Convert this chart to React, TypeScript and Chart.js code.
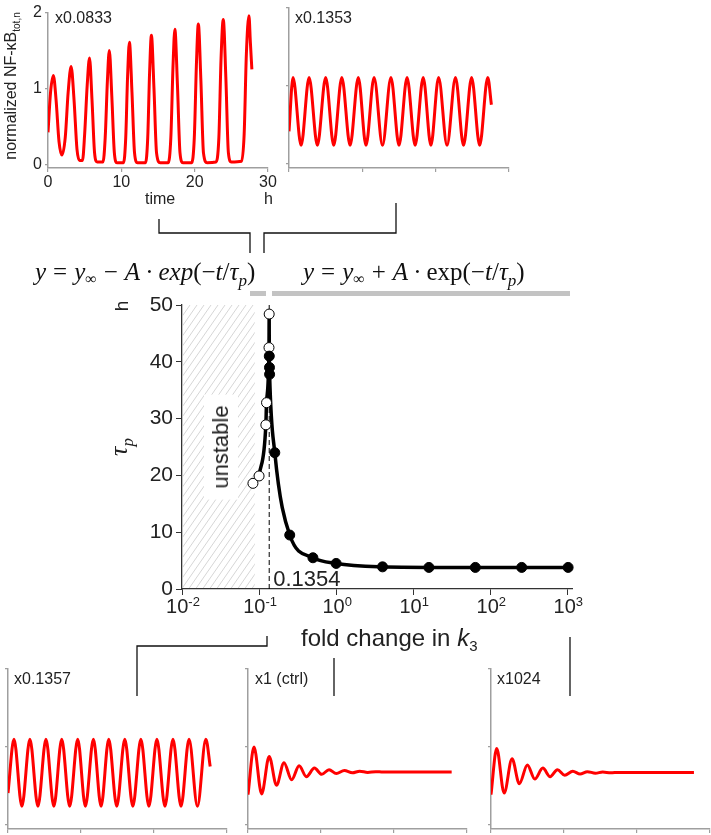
import React, { useEffect, useRef } from "react";
import { Chart, registerables } from "chart.js";

Chart.register(...registerables);
Chart.defaults.font.family = '"Liberation Sans", Arial, sans-serif';

// ---------------- data ----------------
// top-left panel: k3 x0.0833 (time in h, normalized NF-kB)
const tA = [0, 0.35, 0.73, 1.1, 1.5, 1.9, 2.35, 2.75, 3.15, 3.55, 3.95, 4.3, 4.7, 5.0, 5.35, 5.66, 6.0, 6.35, 6.7, 7.5, 7.8, 8.1, 8.36, 8.7, 9.05, 9.4, 10.3, 10.6, 10.85, 11.1, 11.45, 11.8, 12.2, 13.3, 13.6, 13.85, 14.1, 14.45, 14.8, 15.3, 16.4, 16.75, 17.05, 17.3, 17.65, 18.0, 18.4, 19.6, 19.95, 20.25, 20.5, 20.85, 21.2, 21.7, 22.9, 23.3, 23.6, 23.9, 24.25, 24.6, 25.0, 26.4, 26.75, 27.05, 27.4, 27.6, 27.8];
const vA = [0.42, 0.95, 1.17, 0.85, 0.3, 0.12, 0.35, 0.95, 1.29, 0.85, 0.2, 0.05, 0.05, 0.4, 1.05, 1.4, 0.85, 0.15, 0.03, 0.03, 0.35, 1.1, 1.5, 0.9, 0.15, 0.02, 0.02, 0.35, 1.15, 1.61, 0.95, 0.15, 0.02, 0.02, 0.35, 1.2, 1.7, 1.0, 0.15, 0.02, 0.02, 0.35, 1.3, 1.78, 1.05, 0.15, 0.02, 0.02, 0.35, 1.35, 1.85, 1.1, 0.15, 0.02, 0.03, 0.35, 1.4, 1.91, 1.15, 0.15, 0.03, 0.04, 0.4, 1.45, 1.96, 1.6, 1.25];

// top-right panel: k3 x0.1353
const tB = [0, 0.55, 1.65, 2.74, 3.87, 5.0, 6.1, 7.2, 8.33, 9.45, 10.5, 11.6, 12.75, 13.9, 15.0, 16.1, 17.2, 18.3, 19.35, 20.4, 21.55, 22.7, 23.8, 24.9, 26.0, 27.1, 27.6];
const vB = [0.42, 1.11, 0.24, 1.11, 0.24, 1.11, 0.24, 1.11, 0.24, 1.11, 0.24, 1.11, 0.24, 1.11, 0.24, 1.11, 0.24, 1.11, 0.24, 1.11, 0.24, 1.11, 0.24, 1.11, 0.24, 1.11, 0.76];

// bottom-left panel: k3 x0.1357
const tC = [0, 0.82, 1.9, 3.0, 4.1, 5.2, 6.28, 7.36, 8.45, 9.55, 10.6, 11.7, 12.75, 13.8, 14.9, 16.0, 17.1, 18.2, 19.3, 20.4, 21.5, 22.6, 23.7, 24.8, 25.95, 27.1, 27.7];
const vC = [0.41, 1.1, 0.24, 1.1, 0.24, 1.1, 0.24, 1.1, 0.24, 1.1, 0.24, 1.1, 0.24, 1.1, 0.24, 1.1, 0.24, 1.1, 0.24, 1.1, 0.24, 1.1, 0.24, 1.1, 0.24, 1.1, 0.75];

// bottom-middle panel: k3 x1 (ctrl)
const tD = [0, 0.82, 1.87, 2.9, 3.9, 4.93, 5.98, 7.0, 8.0, 9.1, 10.1, 11.1, 12.1, 13.2, 14.3, 15.3, 16.4, 17.5, 18.5, 27.9];
const vD = [0.39, 1.0, 0.4, 0.88, 0.51, 0.8, 0.58, 0.76, 0.62, 0.73, 0.65, 0.71, 0.66, 0.7, 0.67, 0.69, 0.675, 0.685, 0.68, 0.68];

// bottom-right panel: k3 x1024
const tE = [0, 0.78, 1.8, 2.88, 3.88, 4.98, 6.0, 7.1, 8.1, 9.1, 10.1, 11.2, 12.2, 13.2, 14.3, 15.3, 16.4, 17.5, 27.8];
const vE = [0.39, 0.98, 0.41, 0.85, 0.53, 0.77, 0.59, 0.73, 0.62, 0.71, 0.64, 0.69, 0.655, 0.685, 0.665, 0.68, 0.67, 0.675, 0.675];

// main panel: fold change in k3 vs tau_p (h)
const foldOpen = [0.0833, 0.1, 0.1225, 0.125, 0.1345, 0.1353];
const tauOpen = [18.6, 19.9, 28.9, 32.8, 42.5, 48.4];
const foldFilled = [0.1357, 0.1365, 0.137, 0.16, 0.25, 0.5, 1, 4, 16, 64, 256, 1024];
const tauFilled = [41.0, 39.0, 37.8, 24.0, 9.5, 5.5, 4.5, 3.9, 3.8, 3.8, 3.8, 3.8];
const threshold = 0.1354;
const unstableRange = [0.01, 0.088];

// tick labels
const smallXTicks = [0, 10, 20, 30];
const smallYTicks = [0, 1, 2];
const mainYTicks = [0, 10, 20, 30, 40, 50];
const mainXExponents = [-2, -1, 0, 1, 2, 3];

// ---------------- helpers ----------------
type Box = { left: number; top: number; width: number; height: number };
type Area = { left: number; top: number; right: number; bottom: number };

const SANS = '"Liberation Sans", Arial, sans-serif';
const SERIF = '"Liberation Serif", "Times New Roman", serif';

function pts(xs: number[], ys: number[]) {
  return xs.map((x, i) => ({ x, y: ys[i] }));
}

function layoutPad(box: Box, area: Area) {
  return {
    padding: {
      top: area.top - box.top,
      right: box.left + box.width - area.right,
      left: 0,
      bottom: 0,
    },
  };
}

function smallConfig(t: number[], v: number[], box: Box, area: Area, labels: boolean) {
  const axisColor = "#9f9f9f";
  return {
    type: "scatter",
    data: {
      datasets: [
        {
          data: pts(t, v),
          showLine: true,
          borderColor: "#ff0000",
          borderWidth: 3,
          pointRadius: 0,
          cubicInterpolationMode: "monotone",
          fill: false,
        },
      ],
    },
    options: {
      animation: false,
      responsive: false,
      devicePixelRatio: 1,
      events: [],
      layout: layoutPad(box, area),
      plugins: { legend: { display: false }, tooltip: { enabled: false } },
      scales: {
        x: {
          type: "linear",
          min: 0,
          max: 30,
          afterBuildTicks: (s: any) => {
            s.ticks = smallXTicks.map((value) => ({ value }));
          },
          afterFit: (s: any) => {
            s.height = box.top + box.height - area.bottom;
          },
          grid: { display: true, drawOnChartArea: false, drawTicks: true, tickLength: 4, color: axisColor, lineWidth: 1.2 },
          border: { display: true, color: axisColor, width: 1.5 },
          ticks: { display: labels, color: "#222", font: { size: 16, family: SANS }, padding: 1, maxRotation: 0 },
        },
        y: {
          type: "linear",
          min: -0.05,
          max: 2,
          afterBuildTicks: (s: any) => {
            s.ticks = smallYTicks.map((value) => ({ value }));
          },
          afterFit: (s: any) => {
            s.width = area.left - box.left;
          },
          grid: { display: true, drawOnChartArea: false, drawTicks: true, tickLength: 3, color: axisColor, lineWidth: 1.2 },
          border: { display: true, color: axisColor, width: 1.5 },
          ticks: { display: labels, color: "#222", font: { size: 16, family: SANS }, padding: 3 },
        },
      },
    },
  };
}

const mainDecor = {
  id: "mainDecor",
  beforeDatasetsDraw(chart: any) {
    const { ctx } = chart;
    const xs = chart.scales.x;
    const ys = chart.scales.y;
    const x0 = xs.getPixelForValue(unstableRange[0]) + 1;
    const x1 = xs.getPixelForValue(unstableRange[1]);
    const yt = ys.getPixelForValue(50);
    const yb = ys.getPixelForValue(0) - 1;
    ctx.save();
    ctx.beginPath();
    ctx.rect(x0, yt, x1 - x0, yb - yt);
    ctx.clip();
    ctx.strokeStyle = "#d6d6d6";
    ctx.lineWidth = 1;
    const slant = (yb - yt) * 0.7;
    ctx.beginPath();
    for (let k = x0 - slant; k <= x1; k += 7) {
      ctx.moveTo(k, yb + 2);
      ctx.lineTo(k + slant, yt);
    }
    ctx.stroke();
    ctx.restore();
  },
  afterDraw(chart: any) {
    const { ctx } = chart;
    const xs = chart.scales.x;
    const ys = chart.scales.y;
    const base = ys.getPixelForValue(0);
    ctx.save();
    ctx.fillStyle = "#222";
    ctx.textBaseline = "alphabetic";
    ctx.textAlign = "left";
    // x tick labels 10^n
    for (const e of mainXExponents) {
      const px = xs.getPixelForValue(Math.pow(10, e));
      ctx.font = `20px ${SANS}`;
      const w1 = ctx.measureText("10").width;
      const es = e < 0 ? "-" + String(-e) : String(e);
      ctx.font = `13px ${SANS}`;
      const w2 = ctx.measureText(es).width;
      const start = px - (w1 + w2) / 2 + 1;
      ctx.font = `20px ${SANS}`;
      ctx.fillText("10", start, base + 24);
      ctx.font = `13px ${SANS}`;
      ctx.fillText(es, start + w1, base + 17);
    }
    // threshold label
    ctx.font = `22px ${SANS}`;
    ctx.fillText(String(threshold), xs.getPixelForValue(threshold) + 4, base - 3);
    ctx.restore();
  },
};

function mainConfig(box: Box, area: Area) {
  const fit = [...pts(foldOpen.slice(1), tauOpen.slice(1)), ...pts(foldFilled, tauFilled)].sort((a, b) => a.x - b.x);
  const axis = "#333";
  return {
    type: "scatter",
    data: {
      datasets: [
        {
          data: pts(foldFilled, tauFilled),
          pointRadius: 5,
          pointBackgroundColor: "#000",
          pointBorderColor: "#000",
          pointBorderWidth: 1,
          showLine: false,
          clip: false,
          order: 0,
        },
        {
          data: pts(foldOpen, tauOpen),
          pointRadius: 5,
          pointBackgroundColor: "#fff",
          pointBorderColor: "#000",
          pointBorderWidth: 1,
          showLine: false,
          clip: false,
          order: 1,
        },
        {
          data: fit,
          showLine: true,
          borderColor: "#000",
          borderWidth: 3.5,
          pointRadius: 0,
          cubicInterpolationMode: "monotone",
          fill: false,
          order: 2,
        },
        {
          data: [
            { x: threshold, y: 0 },
            { x: threshold, y: 50 },
          ],
          showLine: true,
          borderColor: "#000",
          borderWidth: 1,
          borderDash: [5, 3],
          pointRadius: 0,
          fill: false,
          order: 3,
        },
      ],
    },
    options: {
      animation: false,
      responsive: false,
      devicePixelRatio: 1,
      events: [],
      layout: layoutPad(box, area),
      plugins: { legend: { display: false }, tooltip: { enabled: false } },
      scales: {
        x: {
          type: "logarithmic",
          min: 0.01,
          max: 1150,
          afterBuildTicks: (s: any) => {
            s.ticks = mainXExponents.map((e) => ({ value: Math.pow(10, e) }));
          },
          afterFit: (s: any) => {
            s.height = box.top + box.height - area.bottom;
          },
          grid: { display: true, drawOnChartArea: false, drawTicks: true, tickLength: 6, color: axis, lineWidth: 1 },
          border: { display: true, color: axis, width: 1.3 },
          ticks: { display: false },
        },
        y: {
          type: "linear",
          min: 0,
          max: 50,
          afterBuildTicks: (s: any) => {
            s.ticks = mainYTicks.map((value) => ({ value }));
          },
          afterFit: (s: any) => {
            s.width = area.left - box.left;
          },
          grid: { display: true, drawOnChartArea: false, drawTicks: true, tickLength: 6, color: axis, lineWidth: 1 },
          border: { display: true, color: axis, width: 1.3 },
          ticks: { color: "#222", font: { size: 21, family: SANS }, padding: 3 },
        },
      },
    },
    plugins: [mainDecor],
  };
}

function ChartCanvas({ box, build }: { box: Box; build: () => any }) {
  const ref = useRef<HTMLCanvasElement | null>(null);
  useEffect(() => {
    const chart = new Chart(ref.current as HTMLCanvasElement, build());
    return () => chart.destroy();
  }, []);
  return (
    <canvas
      ref={ref}
      width={box.width}
      height={box.height}
      style={{ position: "absolute", left: box.left, top: box.top, width: box.width, height: box.height }}
    />
  );
}

function Label({ left, top, size, children, style }: any) {
  return (
    <div
      style={{
        position: "absolute",
        left,
        top,
        fontSize: size,
        lineHeight: `${size}px`,
        whiteSpace: "nowrap",
        fontFamily: SANS,
        color: "#222",
        ...style,
      }}
    >
      {children}
    </div>
  );
}

function Rotated({ cx, cy, size, children, style }: any) {
  return (
    <div
      style={{
        position: "absolute",
        left: cx,
        top: cy,
        transform: "translate(-50%, -50%) rotate(-90deg)",
        fontSize: size,
        lineHeight: `${size}px`,
        whiteSpace: "nowrap",
        fontFamily: SANS,
        color: "#222",
        ...style,
      }}
    >
      {children}
    </div>
  );
}

const sub = (size: number, drop: number): React.CSSProperties => ({
  fontSize: size,
  position: "relative",
  top: drop,
});

const op: React.CSSProperties = { padding: "0 7px" };
const dot: React.CSSProperties = { padding: "0 5px" };

// layout boxes (styles, not data)
const boxA: Box = { left: 0, top: 0, width: 290, height: 190 };
const areaA: Area = { left: 48, top: 8, right: 268, bottom: 168 };
const boxB: Box = { left: 280, top: 0, width: 240, height: 180 };
const areaB: Area = { left: 289, top: 8, right: 509, bottom: 168 };
const boxM: Box = { left: 90, top: 285, width: 510, height: 340 };
const areaM: Area = { left: 182, top: 305, right: 572, bottom: 589 };
const boxC: Box = { left: 0, top: 655, width: 240, height: 180 };
const areaC: Area = { left: 8, top: 669, right: 227, bottom: 829 };
const boxD: Box = { left: 240, top: 655, width: 240, height: 180 };
const areaD: Area = { left: 248, top: 669, right: 467, bottom: 829 };
const boxE: Box = { left: 483, top: 655, width: 228, height: 180 };
const areaE: Area = { left: 491, top: 669, right: 710, bottom: 829 };

export default function App() {
  return (
    <div
      style={{
        position: "absolute",
        left: 0,
        top: 0,
        width: 711,
        height: 835,
        background: "#fff",
        overflow: "hidden",
        fontFamily: SANS,
      }}
    >
      <ChartCanvas box={boxA} build={() => smallConfig(tA, vA, boxA, areaA, true)} />
      <ChartCanvas box={boxB} build={() => smallConfig(tB, vB, boxB, areaB, false)} />
      <ChartCanvas box={boxM} build={() => mainConfig(boxM, areaM)} />
      <ChartCanvas box={boxC} build={() => smallConfig(tC, vC, boxC, areaC, false)} />
      <ChartCanvas box={boxD} build={() => smallConfig(tD, vD, boxD, areaD, false)} />
      <ChartCanvas box={boxE} build={() => smallConfig(tE, vE, boxE, areaE, false)} />

      <svg width={711} height={835} style={{ position: "absolute", left: 0, top: 0, pointerEvents: "none" }}>
        <g fill="none" stroke="#111" strokeWidth={1.3}>
          <polyline points="159,219 159,233 250,233 250,253" />
          <polyline points="264,253 264,233 396,233 396,203" />
          <polyline points="267,636 267,646 137,646 137,696" />
          <line x1={334} y1={658} x2={334} y2={696} />
          <line x1={570} y1={637} x2={570} y2={696} />
        </g>
        <rect x={250} y={291} width={16} height={5} fill="#c3c3c3" />
        <rect x={272} y={291} width={298} height={5} fill="#c3c3c3" />
      </svg>

      {/* panel labels */}
      <Label left={55} top={10} size={16}>x0.0833</Label>
      <Label left={295} top={10} size={16}>x0.1353</Label>
      <Label left={14} top={671} size={16}>x0.1357</Label>
      <Label left={255} top={671} size={16}>x1 (ctrl)</Label>
      <Label left={497} top={671} size={16}>x1024</Label>

      {/* top-left axis titles */}
      <Label left={145} top={191} size={16}>time</Label>
      <Label left={264} top={191} size={16}>h</Label>
      <Rotated cx={12} cy={86} size={16}>
        normalized NF-κB<span style={sub(10, 4)}>tot,n</span>
      </Rotated>

      {/* equations */}
      <Label left={35} top={259} size={25} style={{ fontFamily: SERIF, color: "#111" }}>
        <i>y</i>
        <span style={op}>=</span>
        <i>y</i>
        <span style={sub(16, 4)}>∞</span>
        <span style={op}>−</span>
        <i>A</i>
        <span style={dot}>·</span>
        <i>exp</i>(−<i>t</i>/<i>τ</i>
        <span style={sub(17, 6)}>
          <i>p</i>
        </span>
        )
      </Label>
      <Label left={303} top={259} size={25} style={{ fontFamily: SERIF, color: "#111" }}>
        <i>y</i>
        <span style={op}>=</span>
        <i>y</i>
        <span style={sub(16, 4)}>∞</span>
        <span style={op}>+</span>
        <i>A</i>
        <span style={dot}>·</span>
        exp(−<i>t</i>/<i>τ</i>
        <span style={sub(17, 6)}>
          <i>p</i>
        </span>
        )
      </Label>

      {/* main axis titles */}
      <Rotated cx={121} cy={306} size={19}>h</Rotated>
      <Rotated cx={120} cy={447} size={26} style={{ fontFamily: SERIF }}>
        <i>τ</i>
        <span style={sub(17, 6)}>
          <i>p</i>
        </span>
      </Rotated>
      <Rotated cx={221} cy={447} size={22} style={{ background: "#fff", padding: "6px 11px" }}>
        unstable
      </Rotated>
      <Label left={301} top={626} size={24}>
        fold change in <i>k</i>
        <span style={sub(15, 5)}>3</span>
      </Label>
    </div>
  );
}
